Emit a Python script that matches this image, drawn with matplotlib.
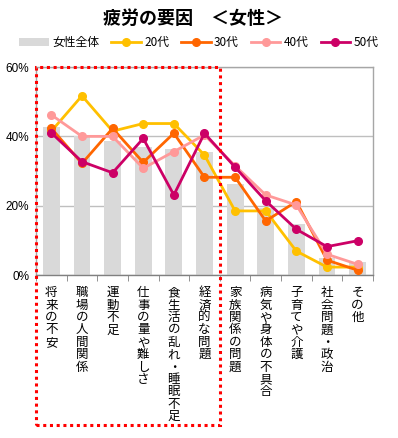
import matplotlib
matplotlib.use("Agg")
import matplotlib.pyplot as plt
import matplotlib.transforms as mtransforms
from matplotlib.patches import Rectangle
import numpy as np

plt.rcParams['font.family'] = ['Noto Sans CJK JP', 'DejaVu Sans']

# ---- データ ----
categories = ["将来の不安", "職場の人間関係", "運動不足", "仕事の量や難しさ",
              "食生活の乱れ・睡眠不足", "経済的な問題", "家族関係の問題",
              "病気や身体の不具合", "子育てや介護", "社会問題・政治", "その他"]
total = [42.8, 40.0, 38.7, 37.0, 36.5, 35.6, 26.4, 19.4, 14.7, 5.0, 3.8]
age20 = [41.5, 51.7, 41.5, 43.7, 43.7, 34.6, 18.5, 18.5, 6.9, 2.3, 2.3]
age30 = [42.3, 32.2, 42.3, 32.5, 40.9, 28.2, 28.2, 15.6, 21.2, 4.3, 1.4]
age40 = [46.2, 40.0, 40.0, 30.8, 35.6, 40.4, 31.5, 23.1, 20.2, 6.0, 3.1]
age50 = [41.0, 32.7, 29.5, 39.4, 23.1, 40.9, 31.1, 21.4, 13.2, 8.2, 9.9]
yticks = [0, 20, 40, 60]

series = [("20代", age20, "#FFC000"),
          ("30代", age30, "#FF6600"),
          ("40代", age40, "#FF9999"),
          ("50代", age50, "#CC0066")]

# ---- プロット ----
fig = plt.figure(figsize=(3.98, 4.38), dpi=100)
ax = fig.add_axes([0.0905, 0.372, 0.8465, 0.475])

x = np.arange(len(categories))
ax.bar(x, total, width=0.55, color="#D9D9D9", label="女性全体", zorder=2)
for name, vals, col in series:
    ax.plot(x, vals, "-o", color=col, lw=2.0, ms=5.5, label=name, zorder=3)

ax.set_xlim(-0.5, len(categories) - 0.5)
ax.set_ylim(0, 60)
ax.set_yticks(yticks)
ax.set_yticklabels([f"{v}%" for v in yticks], fontsize=8.5, family="Liberation Sans")
ax.yaxis.grid(True, color="#BFBFBF", lw=1, zorder=1)
ax.tick_params(axis="y", length=0, pad=5)

# 縦書きラベル
ax.set_xticks(x)
ax.set_xticklabels(["\n".join(c) for c in categories], fontsize=9,
                   linespacing=0.94, va="top")
ax.set_xticks(np.arange(-0.5, len(categories)), minor=True)
ax.tick_params(axis="x", which="major", length=0, pad=8)
ax.tick_params(axis="x", which="minor", length=4, color="#808080")

for s in ax.spines.values():
    s.set_color("#A6A6A6")
    s.set_linewidth(1)
ax.spines["bottom"].set_color("#808080")

# 赤点線の枠
trans = mtransforms.blended_transform_factory(ax.transData, fig.transFigure)
rect = Rectangle((-0.5, 0.030), 6.0, 0.847 - 0.030, transform=trans,
                 fill=False, edgecolor="#FF0000", lw=2.2, ls=(0, (1, 1.2)),
                 clip_on=False, zorder=5)
fig.patches.append(rect)

fig.text(0.485, 0.957, "疲労の要因　＜女性＞", ha="center", va="center",
         fontsize=13, fontweight="bold")

handles, labels = ax.get_legend_handles_labels()
handles = handles[-1:] + handles[:-1]
labels = labels[-1:] + labels[:-1]
fig.legend(handles, labels, loc="center", bbox_to_anchor=(0.5, 0.903), ncol=5,
           frameon=False, fontsize=8.5, handlelength=2.5, handletextpad=0.3,
           columnspacing=1.0, borderaxespad=0)

plt.savefig("out.png", dpi=100)
